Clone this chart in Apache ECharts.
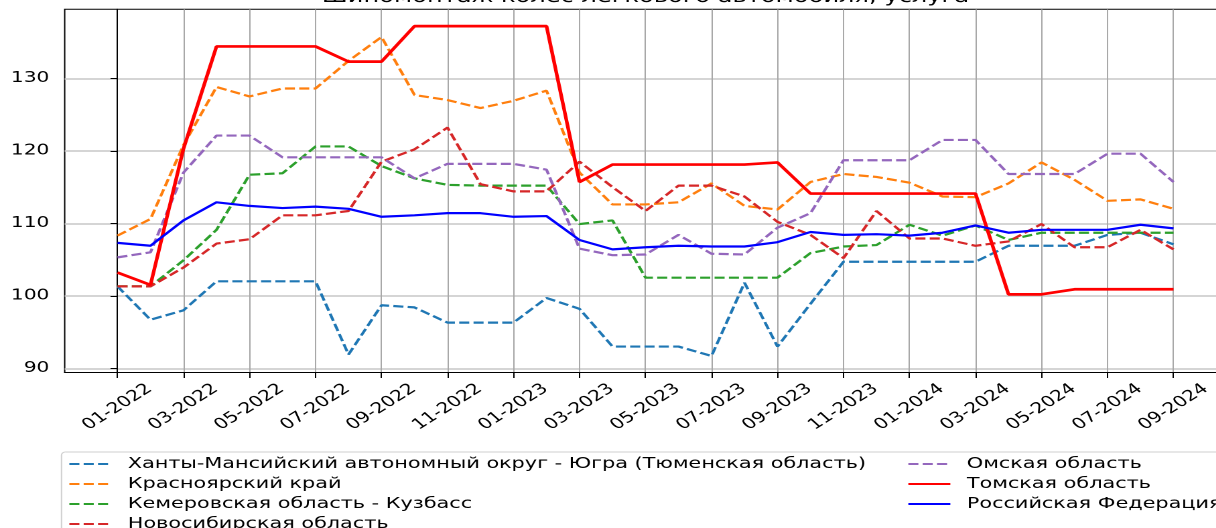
<!DOCTYPE html>
<html>
<head>
<meta charset="utf-8">
<script src="https://cdn.jsdelivr.net/npm/echarts@6/dist/echarts.min.js"></script>
<style>
html,body{margin:0;padding:0;overflow:hidden;background:#fff;width:1216px;height:528px;}
#chart{position:absolute;left:0;top:0;height:600px;transform-origin:0 0;}
</style>
</head>
<body>
<div id="chart"></div>
<script>
// ---- data ----
const months = ['01-2022','02-2022','03-2022','04-2022','05-2022','06-2022','07-2022','08-2022','09-2022','10-2022','11-2022','12-2022',
  '01-2023','02-2023','03-2023','04-2023','05-2023','06-2023','07-2023','08-2023','09-2023','10-2023','11-2023','12-2023',
  '01-2024','02-2024','03-2024','04-2024','05-2024','06-2024','07-2024','08-2024','09-2024'];
const tickMonths = [0,2,4,6,8,10,12,14,16,18,20,22,24,26,28,30,32];
const yTicks = [90,100,110,120,130];
const titleText = 'Шиномонтаж колес легкового автомобиля, услуга';

const nameHmao = 'Ханты-Мансийский автономный округ - Югра (Тюменская область)';
const nameKras = 'Красноярский край';
const nameKem = 'Кемеровская область - Кузбасс';
const nameNsk = 'Новосибирская область';
const nameOmsk = 'Омская область';
const nameTomsk = 'Томская область';
const nameRf = 'Российская Федерация';

const hmao  = [101.3,96.7,98.0,102.0,102.0,102.0,102.0,91.9,98.7,98.4,96.3,96.3,96.3,99.7,98.2,93.0,93.0,93.0,91.7,101.8,93.0,98.9,104.7,104.7,104.7,104.7,104.7,106.9,106.9,106.9,108.4,108.7,107.1];
const kras  = [108.3,110.6,120.8,128.8,127.5,128.6,128.6,132.4,135.7,127.7,127.0,125.9,126.9,128.3,117.0,112.6,112.6,112.9,115.5,112.4,111.9,115.7,116.8,116.4,115.6,113.7,113.6,115.5,118.4,116.0,113.1,113.3,112.0];
const kem   = [101.3,101.3,104.9,109.1,116.7,116.9,120.6,120.6,117.9,116.2,115.3,115.2,115.2,115.2,109.9,110.4,102.5,102.5,102.5,102.5,102.5,105.9,106.8,107.0,109.8,108.3,109.7,107.7,108.7,108.7,108.7,108.7,108.7];
const nsk   = [101.3,101.3,103.9,107.2,107.8,111.1,111.1,111.7,118.5,120.2,123.2,115.4,114.4,114.4,118.5,115.0,111.7,115.2,115.2,113.7,110.2,108.4,105.2,111.7,107.9,107.9,106.9,107.5,109.9,106.7,106.7,109.1,106.4];
const omsk  = [105.3,106.0,117.0,122.1,122.1,119.1,119.1,119.1,119.1,116.2,118.2,118.2,118.2,117.4,106.5,105.6,105.7,108.4,105.8,105.7,109.4,111.4,118.7,118.7,118.7,121.5,121.5,116.8,116.8,116.8,119.6,119.6,115.7];
const tomsk = [103.2,101.5,120.3,134.4,134.4,134.4,134.4,132.3,132.3,137.2,137.2,137.2,137.2,137.2,115.7,118.1,118.1,118.1,118.1,118.1,118.4,114.1,114.1,114.1,114.1,114.1,114.1,100.2,100.2,100.9,100.9,100.9,100.9];
const rf    = [107.3,106.9,110.4,112.9,112.4,112.1,112.3,112.0,110.9,111.1,111.4,111.4,110.9,111.0,107.7,106.4,106.7,106.9,106.8,106.8,107.4,108.8,108.4,108.5,108.3,108.7,109.7,108.7,109.1,109.1,109.1,109.8,109.3];

// ---- layout (horizontal stretch of the reference) ----
const S = 1.34;
const W = Math.ceil(1240 / S);
const H = 600;
const el = document.getElementById('chart');
el.style.width = W + 'px';
el.style.transform = 'scaleX(' + S + ')';

const FONT = 'DejaVu Sans';
const plotLeft = 64.7 / S, plotRight = 1226.3 / S;

function mk(name, arr, color, width, dashed) {
  return {
    name: name, type: 'line', symbol: 'none', showSymbol: false,
    data: arr.map((v, i) => [i, v]),
    lineStyle: { color: color, width: width, type: dashed ? [7.5, 3.2] : 'solid' },
    itemStyle: { color: color },
    emphasis: { disabled: true }
  };
}

const legendCommon = {
  orient: 'vertical',
  itemWidth: 42 / S, itemHeight: 12, itemGap: 4,
  itemStyle: { opacity: 0, borderWidth: 0 },
  textStyle: { fontFamily: FONT, fontSize: 15.5, color: '#000', lineHeight: 15.5, padding: [0, 0, 0, 7.3] },
  selectedMode: false
};

const chart = echarts.init(el, null, { renderer: 'canvas', devicePixelRatio: 2 });
chart.setOption({
  animation: false,
  backgroundColor: '#fff',
  title: {
    text: titleText, left: (plotLeft + plotRight) / 2, textAlign: 'center', top: -11.5, padding: 0,
    textStyle: { fontFamily: FONT, fontSize: 18, fontWeight: 'normal', color: '#000' }
  },
  grid: {
    left: plotLeft, right: W - plotRight, top: 9.3, bottom: H - 372.5,
    show: true, borderColor: '#000', borderWidth: 1, backgroundColor: 'transparent'
  },
  xAxis: {
    type: 'value', min: -1.6, max: 33.6,
    axisLine: { show: true, lineStyle: { color: '#000', width: 1 } },
    axisTick: { show: true, customValues: tickMonths, length: 5.5, lineStyle: { color: '#000' } },
    axisLabel: {
      customValues: tickMonths, formatter: v => months[Math.round(v)],
      rotate: 40, align: 'center', verticalAlign: 'middle', margin: 34.5,
      fontFamily: FONT, fontSize: 15, color: '#000'
    },
    splitLine: { show: true, lineStyle: { color: '#a8a8a8', width: 1 } }
  },
  yAxis: {
    type: 'value', min: 89.42, max: 139.52,
    axisLine: { show: true, lineStyle: { color: '#000', width: 1 } },
    axisTick: { show: true, customValues: yTicks, length: 7 / S, lineStyle: { color: '#000' } },
    axisLabel: {
      customValues: yTicks, margin: 15.4 / S,
      fontFamily: FONT, fontSize: 15, color: '#000'
    },
    splitLine: { show: true, lineStyle: { color: '#c8c8c8', width: 1.5 } }
  },
  legend: [
    Object.assign({}, legendCommon, {
      data: [nameHmao, nameKras, nameKem, nameNsk],
      left: 61.5 / S, top: 452,
      padding: [4, 300, 12, (68 - 61.5) / S],
      borderColor: '#d0d0d0', borderWidth: 1, borderRadius: 3, backgroundColor: 'rgba(255,255,255,0.8)'
    }),
    Object.assign({}, legendCommon, {
      data: [nameOmsk, nameTomsk, nameRf],
      left: 907 / S, top: 456, padding: 0
    })
  ],
  series: [
    mk(nameHmao, hmao, '#1f77b4', 2.2, true),
    mk(nameKras, kras, '#ff7f0e', 2.2, true),
    mk(nameKem, kem, '#2ca02c', 2.2, true),
    mk(nameNsk, nsk, '#d62728', 2.2, true),
    mk(nameOmsk, omsk, '#9467bd', 2.2, true),
    mk(nameTomsk, tomsk, '#ff0000', 2.7, false),
    mk(nameRf, rf, '#0000ff', 2.2, false)
  ]
});
</script>
</body>
</html>
